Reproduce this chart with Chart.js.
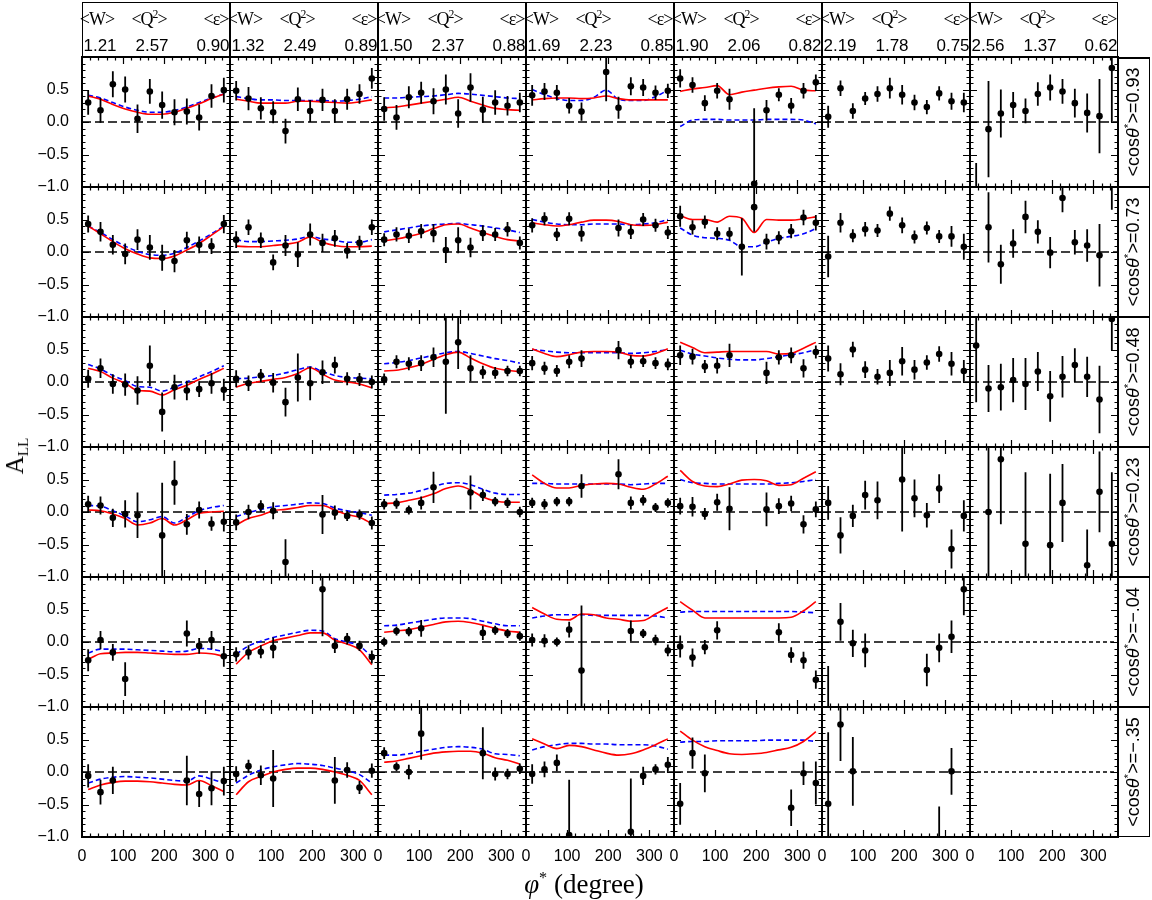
<!DOCTYPE html>
<html><head><meta charset="utf-8">
<script src="https://cdn.jsdelivr.net/npm/chart.js@4.4.1/dist/chart.umd.min.js"></script>
<style>
html,body{margin:0;padding:0;background:#fff}
#page{position:relative;width:1152px;height:900px;overflow:hidden;background:#fff}
#page canvas{position:absolute}
.abs{position:absolute}
.hl{position:absolute;font-family:"Liberation Serif","DejaVu Serif",serif;font-size:18px;line-height:18px;transform:translate(-50%,-50%);white-space:nowrap;letter-spacing:-1px}
.hn{position:absolute;font-family:"Liberation Sans",Arial,sans-serif;font-size:17px;line-height:17px;transform:translate(-50%,-50%);white-space:nowrap}
.rl{position:absolute;font-family:"Liberation Sans",Arial,sans-serif;font-size:18px;line-height:18px;transform:translate(-50%,-50%) rotate(-90deg);white-space:nowrap}
sup{font-size:65%;line-height:0;vertical-align:0;position:relative;top:-0.6em}
</style></head><body><div id="page"></div>
<script>
const N = null;
// ---------- labels ----------
const meanW   = ['1.21','1.32','1.50','1.69','1.90','2.19','2.56'];
const meanQ2  = ['2.57','2.49','2.37','2.23','2.06','1.78','1.37'];
const meanEps = ['0.90','0.89','0.88','0.85','0.82','0.75','0.62'];
const cosTheta = ['0.93','0.73','0.48','0.23','\u2212.04','\u2212.35'];
const xTickValues = [0,100,200,300];
const xTickText   = ['0','100','200','300'];
const yTickValues = [-1,-0.5,0,0.5];
const yTickText   = ['\u22121.0','\u22120.5','0.0','0.5'];
// ---------- phi* bins ----------
const phiBins  = [15,45,75,105,135,165,195,225,255,285,315,345];
const curvePhi = [15,45,75,105,135,165,195,225,255,285,315,345];

// ---------- data: rows = <cos theta*> bins (0.93 ... -.35), 12 phi* bins ----------
const valCol1 = [
 [0.30,0.18,0.58,0.50,0.05,0.47,0.26,0.15,0.16,0.07,0.40,0.49],
 [0.43,0.31,0.11,-0.03,0.19,0.07,-0.09,-0.14,0.18,0.11,0.09,0.43],
 [0.05,0.21,-0.03,-0.04,-0.13,0.25,-0.46,-0.08,-0.13,-0.11,-0.02,-0.12],
 [0.12,0.10,-0.09,-0.03,-0.05,N,-0.36,0.45,-0.19,0.03,-0.18,-0.15],
 [-0.28,0.03,-0.16,-0.57,N,N,N,N,0.13,-0.06,0.03,-0.22],
 [-0.06,-0.31,-0.13,N,N,N,N,N,-0.13,-0.34,-0.25,-0.14]];
const errCol1 = [
 [0.19,0.19,0.20,0.20,0.22,0.19,0.21,0.20,0.20,0.20,0.18,0.19],
 [0.13,0.15,0.15,0.16,0.16,0.19,0.20,0.17,0.13,0.13,0.12,0.14],
 [0.14,0.15,0.15,0.17,0.22,0.31,0.30,0.19,0.15,0.12,0.16,0.17],
 [0.13,0.14,0.14,0.21,0.35,N,0.81,0.34,0.16,0.13,0.11,0.15],
 [0.17,0.14,0.13,0.26,N,N,N,N,0.20,0.12,0.14,0.16],
 [0.18,0.19,0.21,N,N,N,N,N,0.38,0.20,0.26,0.22]];
const redCol1 = [
 [0.40,0.35,0.27,0.20,0.15,0.12,0.12,0.15,0.21,0.28,0.36,0.43],
 [0.40,0.28,0.16,0.05,-0.03,-0.09,-0.10,-0.06,0.03,0.13,0.26,0.39],
 [0.21,0.16,0.06,-0.02,-0.13,-0.14,-0.20,-0.12,-0.05,0.04,0.12,0.21],
 [0.03,0.02,-0.03,-0.10,-0.20,-0.17,-0.10,-0.20,-0.12,-0.02,0.00,0.01],
 [-0.27,-0.18,-0.17,-0.16,-0.16,-0.17,-0.18,-0.19,-0.19,-0.17,-0.18,-0.22],
 [-0.27,-0.20,-0.16,-0.14,-0.14,-0.15,-0.17,-0.19,-0.20,-0.13,-0.21,-0.30]];
const blueCol1 = [
 [0.41,0.37,0.30,0.23,0.18,0.15,0.15,0.18,0.23,0.30,0.37,0.43],
 [0.40,0.30,0.19,0.09,0.01,-0.04,-0.05,-0.02,0.07,0.17,0.28,0.40],
 [0.27,0.20,0.10,0.02,-0.07,-0.08,-0.14,-0.08,0.00,0.08,0.16,0.25],
 [0.10,0.09,0.02,-0.06,-0.15,-0.12,-0.07,-0.17,-0.08,0.02,0.07,0.10],
 [-0.17,-0.11,-0.11,-0.11,-0.12,-0.13,-0.14,-0.15,-0.14,-0.10,-0.11,-0.15],
 [-0.17,-0.11,-0.08,-0.07,-0.08,-0.09,-0.11,-0.13,-0.14,-0.06,-0.11,-0.17]];

const valCol2 = [
 [0.48,0.36,0.21,0.15,-0.14,0.35,0.17,0.34,0.17,0.35,0.43,0.67],
 [0.19,0.38,0.18,-0.16,0.10,-0.04,0.27,0.14,0.21,0.02,0.14,0.38],
 [0.05,-0.02,0.10,-0.01,-0.31,0.07,-0.02,0.15,0.26,0.05,0.04,0.00],
 [-0.16,0.00,0.09,0.02,-0.77,N,N,-0.04,-0.01,-0.06,-0.04,-0.17],
 [-0.19,-0.16,-0.15,-0.09,N,N,N,0.81,-0.06,0.05,-0.06,-0.23],
 [-0.03,0.09,-0.05,-0.10,N,N,N,N,-0.13,0.03,-0.24,0.02]];
const errCol2 = [
 [0.15,0.18,0.17,0.17,0.19,0.18,0.17,0.17,0.18,0.16,0.15,0.16],
 [0.13,0.12,0.12,0.12,0.16,0.19,0.17,0.14,0.13,0.12,0.11,0.12],
 [0.13,0.12,0.10,0.15,0.22,0.37,0.26,0.18,0.13,0.10,0.10,0.10],
 [0.12,0.11,0.09,0.13,0.35,N,N,0.30,0.11,0.08,0.08,0.10],
 [0.11,0.11,0.10,0.16,N,N,N,0.72,0.11,0.09,0.08,0.10],
 [0.12,0.10,0.15,0.44,N,N,N,N,0.36,0.12,0.10,0.11]];
const redCol2 = [
 [0.35,0.32,0.29,0.29,0.29,0.32,0.32,0.31,0.30,0.29,0.31,0.34],
 [0.09,0.08,0.08,0.10,0.12,0.15,0.23,0.15,0.10,0.08,0.08,0.09],
 [-0.08,-0.02,0.01,0.04,0.07,0.13,0.22,0.12,0.03,0.00,-0.03,-0.09],
 [-0.20,-0.10,-0.05,0.02,0.04,0.07,0.10,0.10,0.03,-0.04,-0.08,-0.18],
 [-0.34,-0.16,-0.06,0.02,0.06,0.10,0.14,0.14,0.03,-0.03,-0.12,-0.35],
 [-0.35,-0.15,-0.07,0.00,0.04,0.06,0.06,0.04,0.00,-0.05,-0.13,-0.35]];
const blueCol2 = [
 [0.39,0.36,0.34,0.34,0.33,0.33,0.33,0.33,0.32,0.33,0.35,0.39],
 [0.19,0.16,0.16,0.17,0.18,0.20,0.24,0.20,0.18,0.15,0.15,0.19],
 [0.05,0.06,0.08,0.10,0.14,0.19,0.23,0.16,0.10,0.07,0.06,0.05],
 [-0.07,-0.01,0.04,0.08,0.10,0.12,0.14,0.13,0.06,0.02,-0.01,-0.05],
 [-0.19,-0.06,0.01,0.07,0.11,0.15,0.18,0.17,0.05,0.00,-0.06,-0.23],
 [-0.17,-0.05,0.03,0.08,0.11,0.13,0.12,0.10,0.06,0.02,-0.04,-0.17]];

const valCol3 = [
 [0.20,0.07,0.38,0.45,0.32,0.50,0.13,0.53,0.19,0.30,0.25,0.30],
 [0.19,0.27,0.25,0.32,0.29,0.03,0.18,0.07,0.29,0.27,0.35,0.14],
 [0.04,0.31,0.28,0.29,0.38,0.31,0.61,0.21,0.15,0.14,0.17,0.17],
 [0.12,0.13,0.03,0.14,0.38,N,N,0.30,0.26,0.16,0.14,0.00],
 [0.00,0.17,0.16,0.21,N,N,N,N,0.14,0.18,0.13,0.09],
 [0.29,0.08,0.00,0.59,N,N,N,N,0.29,-0.03,-0.03,0.05]];
const errCol3 = [
 [0.18,0.19,0.17,0.17,0.20,0.23,0.22,0.22,0.20,0.19,0.15,0.15],
 [0.10,0.11,0.11,0.11,0.14,0.20,0.20,0.15,0.12,0.10,0.11,0.10],
 [0.09,0.10,0.10,0.12,0.15,0.80,0.41,0.20,0.10,0.09,0.08,0.08],
 [0.08,0.08,0.07,0.10,0.24,N,N,0.26,0.09,0.07,0.08,0.08],
 [0.07,0.07,0.07,0.13,N,N,N,N,0.11,0.07,0.07,0.07],
 [0.09,0.07,0.11,0.40,N,N,N,N,0.40,0.10,0.08,0.08]];
const redCol3 = [
 [0.22,0.23,0.26,0.29,0.32,0.35,0.38,0.32,0.26,0.21,0.19,0.18],
 [0.17,0.20,0.24,0.29,0.36,0.42,0.43,0.37,0.30,0.24,0.19,0.17],
 [0.17,0.18,0.22,0.27,0.35,0.42,0.46,0.37,0.28,0.21,0.18,0.16],
 [0.13,0.14,0.18,0.22,0.28,0.36,0.40,0.34,0.23,0.17,0.15,0.15],
 [0.15,0.17,0.19,0.23,0.27,0.31,0.32,0.30,0.26,0.21,0.17,0.15],
 [0.15,0.17,0.21,0.25,0.29,0.31,0.32,0.32,0.29,0.22,0.18,0.12]];
const blueCol3 = [
 [0.37,0.37,0.38,0.39,0.40,0.42,0.44,0.43,0.41,0.39,0.37,0.36],
 [0.31,0.34,0.37,0.40,0.42,0.43,0.44,0.42,0.40,0.37,0.34,0.30],
 [0.28,0.30,0.33,0.37,0.41,0.45,0.47,0.44,0.40,0.36,0.33,0.29],
 [0.26,0.27,0.29,0.33,0.39,0.44,0.45,0.42,0.35,0.29,0.27,0.27],
 [0.25,0.26,0.29,0.32,0.35,0.37,0.37,0.36,0.32,0.28,0.25,0.25],
 [0.26,0.26,0.28,0.32,0.35,0.38,0.39,0.38,0.35,0.28,0.27,0.25]];

const valCol4 = [
 [0.41,0.47,0.45,0.25,0.16,N,0.77,0.22,0.55,0.53,0.45,0.48],
 [0.41,0.51,0.27,0.51,0.28,N,N,0.37,0.31,0.50,0.41,0.30],
 [0.29,0.21,0.17,0.31,0.36,N,N,0.49,0.31,0.32,0.29,0.27],
 [0.14,0.12,0.16,0.16,0.40,N,N,0.58,0.14,0.18,0.07,0.14],
 [0.03,0.02,0.00,0.19,-0.44,N,N,N,0.17,0.13,0.03,-0.13],
 [-0.03,0.04,0.14,-0.97,N,N,N,N,-0.92,-0.06,0.04,0.11]];
const errCol4 = [
 [0.16,0.13,0.12,0.12,0.14,N,0.45,0.17,0.14,0.13,0.11,0.11],
 [0.11,0.10,0.10,0.10,0.12,N,N,0.13,0.11,0.10,0.10,0.10],
 [0.11,0.10,0.09,0.10,0.13,N,N,0.14,0.10,0.09,0.09,0.09],
 [0.08,0.08,0.07,0.07,0.18,N,N,0.23,0.10,0.08,0.07,0.07],
 [0.10,0.10,0.07,0.12,1.00,N,N,N,0.16,0.07,0.08,0.09],
 [0.15,0.12,0.13,0.85,N,N,N,N,0.82,0.14,0.08,0.12]];
const redCol4 = [
 [0.34,0.36,0.37,0.37,0.36,0.37,0.40,0.36,0.34,0.34,0.34,0.34],
 [0.45,0.42,0.40,0.42,0.46,0.49,0.49,0.47,0.42,0.41,0.42,0.46],
 [0.51,0.44,0.39,0.42,0.46,0.47,0.47,0.46,0.41,0.40,0.44,0.51],
 [0.57,0.44,0.37,0.37,0.41,0.43,0.44,0.43,0.38,0.35,0.43,0.55],
 [0.53,0.43,0.35,0.34,0.43,0.42,0.37,0.35,0.32,0.33,0.43,0.53],
 [0.51,0.43,0.36,0.41,0.39,0.34,0.29,0.26,0.28,0.34,0.42,0.51]];
const blueCol4 = [
 [0.50,0.42,0.36,0.33,0.33,0.38,0.49,0.35,0.33,0.33,0.39,0.49],
 [0.50,0.46,0.43,0.42,0.42,0.43,0.43,0.43,0.42,0.43,0.45,0.50],
 [0.50,0.48,0.46,0.45,0.45,0.45,0.45,0.45,0.44,0.45,0.47,0.50],
 [0.44,0.44,0.43,0.43,0.43,0.43,0.43,0.43,0.42,0.43,0.44,0.44],
 [0.37,0.40,0.42,0.42,0.42,0.41,0.41,0.41,0.41,0.41,0.40,0.37],
 [0.34,0.39,0.42,0.44,0.44,0.43,0.43,0.42,0.42,0.42,0.40,0.35]];

const valCol5 = [
 [0.67,0.57,0.29,0.48,0.35,N,-0.95,0.18,0.42,0.25,0.48,0.61],
 [0.55,0.38,0.46,0.28,0.28,0.08,0.69,0.16,0.22,0.32,0.53,0.45],
 [0.41,0.39,0.24,0.25,0.41,N,N,0.14,0.38,0.41,0.21,0.46],
 [0.09,0.08,-0.03,0.15,0.05,N,N,0.04,0.09,0.13,-0.19,0.04],
 [-0.07,-0.24,-0.08,0.18,N,N,N,N,0.15,-0.20,-0.28,-0.58],
 [-0.49,0.29,-0.02,N,N,N,N,N,N,-0.55,-0.02,-0.17]];
const errCol5 = [
 [0.14,0.12,0.12,0.12,0.16,N,1.16,0.16,0.10,0.12,0.12,0.12],
 [0.16,0.11,0.10,0.10,0.10,0.44,0.38,0.12,0.10,0.11,0.12,0.12],
 [0.15,0.12,0.10,0.12,0.18,N,N,0.17,0.11,0.12,0.14,0.10],
 [0.13,0.15,0.09,0.13,0.33,N,N,0.26,0.12,0.12,0.14,0.12],
 [0.17,0.14,0.11,0.14,N,N,N,N,0.14,0.12,0.13,0.14],
 [0.32,0.24,0.29,N,N,N,N,N,N,0.28,0.18,0.33]];
const redCol5 = [
 [0.47,0.51,0.53,0.56,0.42,0.46,0.49,0.52,0.54,0.55,0.49,0.48],
 [0.56,0.50,0.50,0.46,0.55,0.52,0.30,0.50,0.49,0.49,0.51,0.54],
 [0.61,0.53,0.45,0.46,0.47,0.47,0.47,0.47,0.43,0.44,0.52,0.61],
 [0.64,0.47,0.40,0.39,0.43,0.49,0.50,0.48,0.41,0.42,0.52,0.62],
 [0.62,0.49,0.37,0.37,0.37,0.37,0.37,0.37,0.37,0.38,0.48,0.62],
 [0.63,0.49,0.39,0.33,0.28,0.27,0.28,0.30,0.34,0.38,0.47,0.62]];
const blueCol5 = [
 [-0.07,0.03,0.04,0.04,0.03,0.03,0.03,0.04,0.04,0.04,0.03,-0.03],
 [0.37,0.26,0.22,0.21,0.18,0.08,0.08,0.15,0.21,0.24,0.28,0.36],
 [0.49,0.43,0.40,0.37,0.35,0.34,0.34,0.36,0.39,0.42,0.45,0.50],
 [0.50,0.45,0.44,0.43,0.43,0.43,0.43,0.43,0.44,0.45,0.47,0.50],
 [0.46,0.47,0.47,0.47,0.47,0.47,0.47,0.47,0.47,0.47,0.46,0.45],
 [0.46,0.47,0.47,0.48,0.48,0.48,0.48,0.49,0.49,0.49,0.49,0.47]];

const valCol6 = [
 [0.08,0.52,0.17,0.36,0.43,0.52,0.42,0.30,0.23,0.44,0.32,0.30],
 [-0.07,0.45,0.25,0.35,0.33,0.59,0.41,0.23,0.37,0.24,0.24,0.08],
 [0.36,0.12,0.50,0.19,0.08,0.14,0.32,0.19,0.30,0.43,0.28,0.17],
 [0.14,-0.36,-0.06,0.26,0.18,N,0.50,0.21,-0.05,0.36,-0.57,-0.06],
 [-1.40,0.31,-0.02,-0.13,N,N,N,N,-0.43,-0.09,0.08,0.81],
 [-0.49,0.73,0.01,N,N,N,N,N,N,-1.30,0.01,N]];
const errCol6 = [
 [0.17,0.12,0.12,0.10,0.12,0.16,0.15,0.12,0.11,0.11,0.13,0.15],
 [0.32,0.15,0.10,0.11,0.10,0.11,0.12,0.10,0.10,0.10,0.16,0.20],
 [0.20,0.17,0.12,0.13,0.12,0.20,0.22,0.15,0.11,0.12,0.18,0.17],
 [0.26,0.28,0.17,0.22,0.29,N,0.80,0.29,0.19,0.22,0.30,0.24],
 [1.03,0.29,0.21,0.26,N,N,N,N,0.25,0.22,0.25,0.40],
 [1.10,0.56,0.53,N,N,N,N,N,N,0.77,0.36,N]];

const valCol7 = [
 [-1.30,-0.11,0.13,0.26,0.17,0.43,0.53,0.47,0.29,0.14,0.09,0.83],
 [N,0.38,-0.19,0.13,0.54,0.31,-0.01,0.83,0.15,0.10,-0.05,1.20],
 [0.56,-0.10,-0.08,0.03,-0.03,0.16,-0.22,0.08,0.26,0.08,-0.27,0.97],
 [N,0.00,0.81,N,-0.49,N,-0.51,0.14,N,-0.82,0.31,-0.49],
 [N,N,N,N,N,N,N,N,N,N,N,N],
 [N,N,N,N,N,N,N,N,N,N,N,N]];
const errCol7 = [
 [0.67,0.74,0.37,0.20,0.19,0.18,0.20,0.19,0.22,0.30,0.57,0.83],
 [N,0.54,0.30,0.22,0.25,0.18,0.24,0.22,0.19,0.25,0.48,0.55],
 [0.87,0.36,0.36,0.34,0.40,0.30,0.39,0.32,0.26,0.31,0.52,0.48],
 [N,1.05,1.00,N,1.10,N,1.10,0.60,N,0.55,0.62,1.10],
 [N,N,N,N,N,N,N,N,N,N,N,N],
 [N,N,N,N,N,N,N,N,N,N,N,N]];

const valCols  = [valCol1,valCol2,valCol3,valCol4,valCol5,valCol6,valCol7];
const errCols  = [errCol1,errCol2,errCol3,errCol4,errCol5,errCol6,errCol7];
const redCols  = [redCol1,redCol2,redCol3,redCol4,redCol5];
const blueCols = [blueCol1,blueCol2,blueCol3,blueCol4,blueCol5];

// ---------- layout ----------
const X0 = 82, PW = 148, Y0 = 57, PH = 130, PAD = 10, XAX = 32;
const TICKFONT = {family:'"Liberation Sans", Arial, sans-serif', size:16};
const page = document.getElementById('page');

const errorBars = {
  id:'errorBars',
  beforeDatasetDraw(chart, args){
    const ds = chart.data.datasets[args.index];
    if (!ds.errors) return;
    const {ctx, chartArea:a, scales:{y}} = chart;
    ctx.save();
    ctx.beginPath(); ctx.rect(a.left, a.top, a.right-a.left, a.bottom-a.top); ctx.clip();
    ctx.strokeStyle = '#000'; ctx.lineWidth = 1.8;
    ctx.beginPath();
    args.meta.data.forEach((el, i) => {
      const d = ds.data[i], e = ds.errors[i];
      ctx.moveTo(el.x, y.getPixelForValue(d.y - e));
      ctx.lineTo(el.x, y.getPixelForValue(d.y + e));
    });
    ctx.stroke();
    ctx.restore();
  }
};
const frameTicks = {
  id:'frameTicks',
  afterDatasetsDraw(chart){
    const {ctx, chartArea:a, scales:{x, y}} = chart;
    ctx.save();
    ctx.strokeStyle = '#000'; ctx.lineWidth = 1.2;
    ctx.beginPath();
    for (let v = 20; v < 360; v += 20) {
      const px = Math.round(x.getPixelForValue(v)) + 0.5;
      const L = v % 100 === 0 ? 7 : 3.5;
      ctx.moveTo(px, a.top); ctx.lineTo(px, a.top + L);
      ctx.moveTo(px, a.bottom); ctx.lineTo(px, a.bottom - L);
    }
    for (let i = -9; i <= 9; i++) {
      const py = Math.round(y.getPixelForValue(i / 10)) + 0.5;
      const L = i % 5 === 0 ? 7 : 3.5;
      ctx.moveTo(a.left, py); ctx.lineTo(a.left + L, py);
      ctx.moveTo(a.right, py); ctx.lineTo(a.right - L, py);
    }
    ctx.stroke();
    ctx.lineWidth = 2;
    ctx.strokeRect(a.left, a.top, a.right - a.left, a.bottom - a.top);
    ctx.restore();
  }
};

for (let r = 0; r < 6; r++) {
  for (let c = 0; c < 7; c++) {
    const left = c === 0 ? 0 : X0 + c*PW - PAD;
    const width = X0 + (c+1)*PW + PAD - left;
    const top = Y0 + r*PH - PAD;
    const height = PH + 2*PAD + (r === 5 ? XAX : 0);
    const cv = document.createElement('canvas');
    cv.width = width; cv.height = height;
    cv.style.left = left + 'px'; cv.style.top = top + 'px';
    cv.style.width = width + 'px'; cv.style.height = height + 'px';
    page.appendChild(cv);

    const vals = valCols[c][r], errs = errCols[c][r];
    const pts = [], el = [];
    phiBins.forEach((p, k) => { if (vals[k] !== null) { pts.push({x:p, y:vals[k]}); el.push(errs[k]); } });
    const datasets = [{
      type:'scatter', data:pts, errors:el, pointRadius:3.3, pointHoverRadius:3.3,
      pointBackgroundColor:'#000', pointBorderWidth:0, showLine:false, clip:0
    }];
    if (c < 5) {
      datasets.push({type:'line', data:curvePhi.map((p,k)=>({x:p, y:redCols[c][r][k]})),
        borderColor:'#ff0000', borderWidth:1.6, pointRadius:0, cubicInterpolationMode:'monotone', clip:0, fill:false});
      datasets.push({type:'line', data:curvePhi.map((p,k)=>({x:p, y:blueCols[c][r][k]})),
        borderColor:'#0000ff', borderWidth:1.6, borderDash:[5,3], pointRadius:0, cubicInterpolationMode:'monotone', clip:0, fill:false});
    }
    datasets.push({type:'line', data:[{x:0,y:0},{x:360,y:0}], borderColor:'#000', borderWidth:1.3,
      borderDash: pts.length ? [9,4] : [4,3], pointRadius:0, clip:0, fill:false});

    const showX = r === 5, showY = c === 0;
    new Chart(cv, {
      type:'scatter',
      data:{datasets},
      plugins:[errorBars, frameTicks],
      options:{
        responsive:false, animation:false, events:[],
        layout:{padding:{left: c===0 ? 0 : PAD, right:PAD, top:PAD, bottom:PAD}},
        plugins:{legend:{display:false}, tooltip:{enabled:false}},
        scales:{
          x:{type:'linear', min:0, max:360, display: showX,
             grid:{display:false, drawTicks:false}, border:{display:false},
             ticks:{stepSize:100, includeBounds:false, autoSkip:false, maxRotation:0, minRotation:0, padding:10,
                    color:'#000', font:TICKFONT,
                    callback:v => { const i = xTickValues.indexOf(v); return i < 0 ? '' : xTickText[i]; }},
             afterFit:s => { if (showX) { s.height = XAX; s.paddingLeft = 0; s.paddingRight = 0; } }},
          y:{type:'linear', min:-1, max:1, display: showY,
             grid:{display:false, drawTicks:false}, border:{display:false},
             ticks:{stepSize:0.5, autoSkip:false, padding:13, color:'#000', font:TICKFONT,
                    callback:v => { const i = yTickValues.indexOf(v); return i < 0 ? '' : yTickText[i]; }},
             afterFit:s => { if (showY) { s.width = X0; s.paddingTop = 0; s.paddingBottom = 0; } }}
        }
      }
    });
  }
}

// ---------- header boxes ----------
const hdr = document.createElement('div');
hdr.className = 'abs';
Object.assign(hdr.style, {left:X0+'px', top:'2px', width:(7*PW)+'px', height:(Y0-2)+'px',
  border:'1.5px solid #000', boxSizing:'border-box'});
page.appendChild(hdr);
for (let c = 0; c < 7; c++) {
  const cx = X0 + c*PW;
  if (c > 0) {
    const v = document.createElement('div'); v.className = 'abs';
    Object.assign(v.style, {left:(cx-0.75)+'px', top:'2px', width:'1.5px', height:(Y0-2)+'px', background:'#000'});
    page.appendChild(v);
  }
  const labels = [['&lt;W&gt;',15],['&lt;Q<sup>2</sup>&gt;',67],['&lt;\u03B5&gt;',134]];
  labels.forEach(([t,dx]) => {
    const s = document.createElement('div'); s.className = 'hl'; s.innerHTML = t;
    s.style.left = (cx+dx)+'px'; s.style.top = '19px'; page.appendChild(s);
  });
  const nums = [[meanW[c],18],[meanQ2[c],70],[meanEps[c],131]];
  nums.forEach(([t,dx]) => {
    const s = document.createElement('div'); s.className = 'hn'; s.textContent = t;
    s.style.left = (cx+dx)+'px'; s.style.top = '45px'; page.appendChild(s);
  });
}
// ---------- right-hand cos(theta*) boxes ----------
for (let r = 0; r < 6; r++) {
  const b = document.createElement('div'); b.className = 'abs';
  Object.assign(b.style, {left:(X0+7*PW)+'px', top:(Y0+r*PH)+'px', width:'32px', height:PH+'px',
    borderTop: r===0 ? '2px solid #000' : '1px solid #000', borderRight:'1.5px solid #000',
    borderBottom:'1px solid #000', boxSizing:'border-box'});
  page.appendChild(b);
  const t = document.createElement('div'); t.className = 'rl';
  t.innerHTML = '&lt;cos<i>\u03B8</i><sup>*</sup>&gt;=' + cosTheta[r];
  t.style.left = (X0+7*PW+15)+'px'; t.style.top = (Y0+r*PH+PH/2)+'px';
  page.appendChild(t);
}
// ---------- axis titles ----------
const yt = document.createElement('div'); yt.className = 'abs';
yt.innerHTML = 'A<span style="font-size:15px;position:relative;top:5px">LL</span>';
Object.assign(yt.style, {left:'15px', top:'456px', transform:'translate(-50%,-50%) rotate(-90deg)',
  fontFamily:'"Liberation Serif", "DejaVu Serif", serif', fontSize:'25px', whiteSpace:'nowrap'});
page.appendChild(yt);
const xt = document.createElement('div'); xt.className = 'abs';
xt.innerHTML = '<i>\u03C6</i><sup style="font-size:60%">*</sup> (degree)';
Object.assign(xt.style, {left:'584px', top:'884px', transform:'translate(-50%,-50%)',
  fontFamily:'"Liberation Serif", "DejaVu Serif", serif', fontSize:'27px', whiteSpace:'nowrap'});
page.appendChild(xt);
</script></body></html>
